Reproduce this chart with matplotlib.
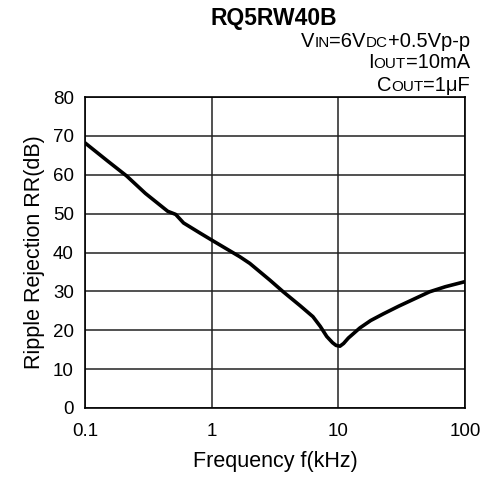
import numpy as np
import matplotlib
matplotlib.use("Agg")
import matplotlib.pyplot as plt
from matplotlib.font_manager import FontProperties
from matplotlib.transforms import IdentityTransform

plt.rcParams['font.family'] = ['Liberation Sans', 'DejaVu Sans']

# Ripple rejection vs. frequency
freq_khz = [0.1, 0.15, 0.213, 0.3, 0.45, 0.52, 0.6, 0.8, 1.0, 1.67, 2.0, 2.88,
            3.67, 5.0, 6.3, 7.2, 8.1, 9.0, 9.6, 10.3, 11.0, 12.0, 14.8, 18.0,
            22.6, 30.0, 52.6, 70.0, 100.0]
rr_db = [68.2, 63.6, 59.7, 55.2, 50.6, 49.8, 47.6, 45.1, 43.2, 38.9, 37.2, 32.9,
         29.9, 26.3, 23.5, 21.0, 18.4, 16.8, 16.1, 15.9, 16.6, 18.0, 20.6, 22.5,
         24.2, 26.2, 29.9, 31.2, 32.5]

x_ticks = [0.1, 1, 10, 100]
x_tick_labels = ["0.1", "1", "10", "100"]
y_ticks = [0, 10, 20, 30, 40, 50, 60, 70, 80]

title = "RQ5RW40B"
# condition lines: (text, small-caps?) pieces
cond_lines = [
    [("V", False), ("IN", True), ("=6V", False), ("DC", True), ("+0.5Vp-p", False)],
    [("I", False), ("OUT", True), ("=10mA", False)],
    [("C", False), ("OUT", True), ("=1\u03bcF", False)],
]

W, H = 486, 483
fig = plt.figure(figsize=(W / 100, H / 100), dpi=100)
ax = fig.add_axes([85 / W, 1 - 408 / H, 380 / W, 311 / H])

ax.plot(freq_khz, rr_db, color="black", lw=2.6, solid_capstyle="round",
        solid_joinstyle="round", zorder=3)
ax.set_xscale("log")
ax.set_xlim(0.1, 100)
ax.set_ylim(0, 80)
ax.set_xticks(x_ticks)
ax.set_xticklabels(x_tick_labels)
ax.set_yticks(y_ticks)
ax.xaxis.set_minor_locator(matplotlib.ticker.NullLocator())
ax.tick_params(length=0, labelsize=13.5, colors="black")
ax.tick_params(axis="x", pad=11)
ax.tick_params(axis="y", pad=8)
ax.grid(True, color="#222222", lw=1.1)
for s in ax.spines.values():
    s.set_color("black")
    s.set_linewidth(1.2)

ax.set_xlabel("Frequency f(kHz)", fontsize=15.5, labelpad=8)
ax.set_ylabel("Ripple Rejection RR(dB)", fontsize=15.5, labelpad=6)

fig.text(274 / W, 1 - 25 / H, title, ha="center", va="baseline",
         fontsize=16.5, fontweight="bold")

renderer = fig.canvas.get_renderer()
big = FontProperties(family=['Liberation Sans', 'DejaVu Sans'], size=14.5)
small = FontProperties(family=['Liberation Sans', 'DejaVu Sans'], size=11)
right_px = 470
baselines = [47, 68, 91]
for pieces, base in zip(cond_lines, baselines):
    x = right_px
    for text, is_small in reversed(pieces):
        fp = small if is_small else big
        w, h, d = renderer.get_text_width_height_descent(text, fp, ismath=False)
        x -= w
        fig.text(x, H - base, text, fontproperties=fp, ha="left", va="baseline",
                 transform=IdentityTransform())

fig.savefig("out.png", dpi=100)
